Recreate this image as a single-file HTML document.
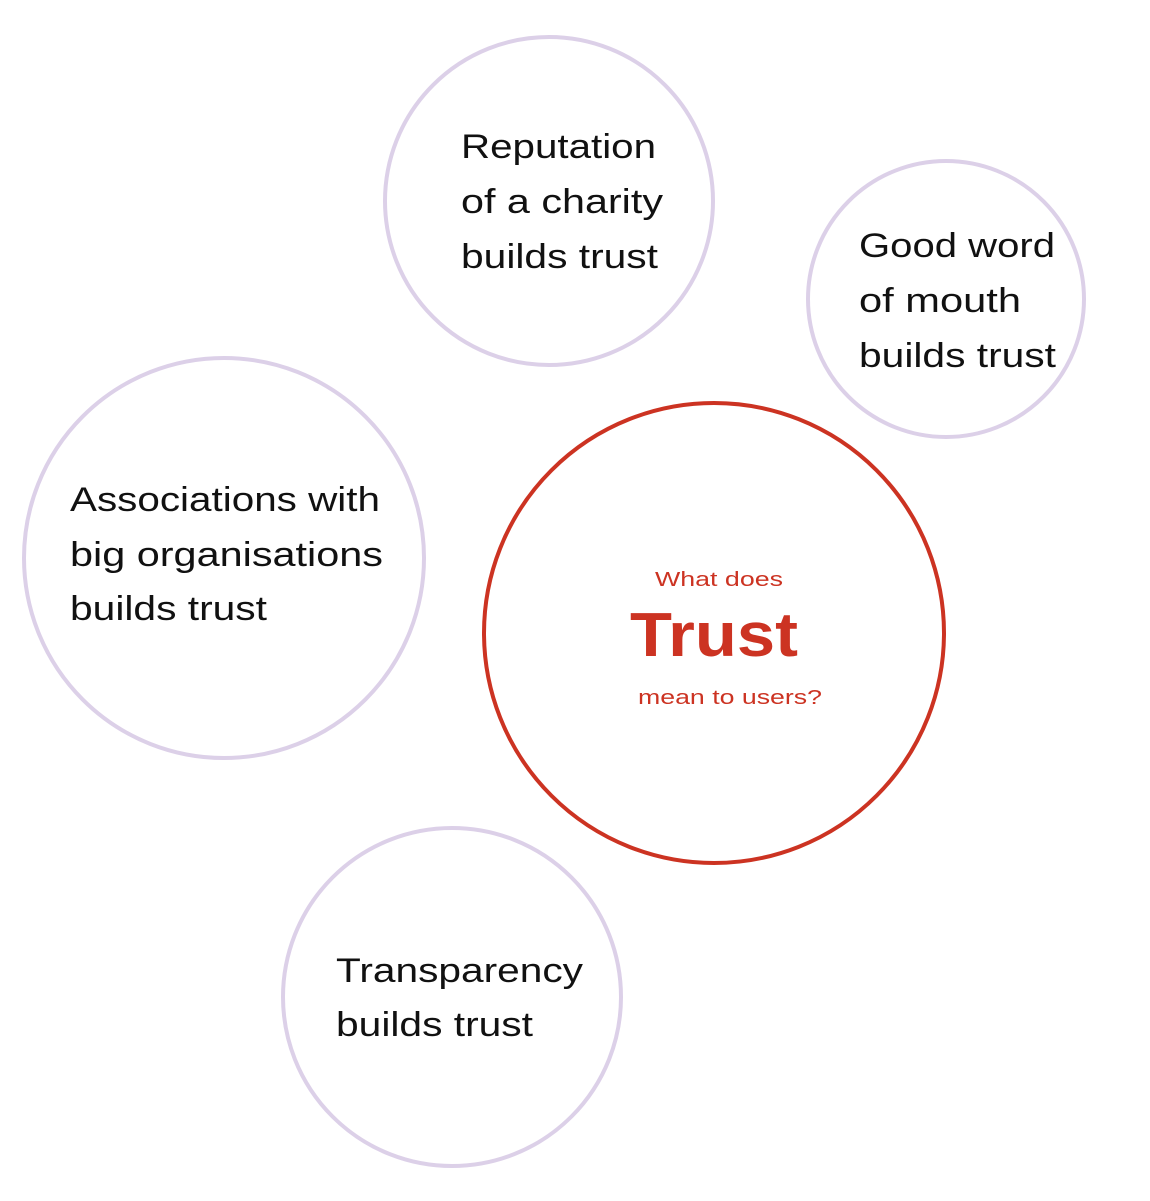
<!DOCTYPE html>
<html><head><meta charset="utf-8"><style>
html,body{margin:0;padding:0;background:#fff;}
svg{display:block;}
text{font-family:"Liberation Sans",sans-serif;}
</style></head><body>
<svg width="1150" height="1201" viewBox="0 0 1150 1201" xmlns="http://www.w3.org/2000/svg">
<g fill="none" stroke="#dcd0e8" stroke-width="4">
<circle cx="549" cy="201" r="164"/>
<circle cx="946" cy="299" r="138"/>
<circle cx="224" cy="558" r="200"/>
<circle cx="452" cy="997" r="169"/>
</g>
<circle cx="714" cy="633" r="230" fill="none" stroke="#cc3322" stroke-width="4"/>
<g fill="#111" font-size="34">
<text x="461" y="158" textLength="195" lengthAdjust="spacingAndGlyphs">Reputation</text>
<text x="461" y="213" textLength="202" lengthAdjust="spacingAndGlyphs">of a charity</text>
<text x="461" y="268" textLength="197" lengthAdjust="spacingAndGlyphs">builds trust</text>
<text x="859" y="257" textLength="196" lengthAdjust="spacingAndGlyphs">Good word</text>
<text x="859" y="312" textLength="162" lengthAdjust="spacingAndGlyphs">of mouth</text>
<text x="859" y="367" textLength="197" lengthAdjust="spacingAndGlyphs">builds trust</text>
<text x="70" y="511" textLength="310" lengthAdjust="spacingAndGlyphs">Associations with</text>
<text x="70" y="566" textLength="313" lengthAdjust="spacingAndGlyphs">big organisations</text>
<text x="70" y="620" textLength="197" lengthAdjust="spacingAndGlyphs">builds trust</text>
<text x="336" y="982" textLength="247" lengthAdjust="spacingAndGlyphs">Transparency</text>
<text x="336" y="1036" textLength="197" lengthAdjust="spacingAndGlyphs">builds trust</text>
</g>
<g fill="#cc3322">
<text x="655" y="586" font-size="20" textLength="128" lengthAdjust="spacingAndGlyphs">What does</text>
<text x="630" y="656" font-size="62" font-weight="bold" textLength="168" lengthAdjust="spacingAndGlyphs">Trust</text>
<text x="638" y="704" font-size="20" textLength="184" lengthAdjust="spacingAndGlyphs">mean to users?</text>
</g>
</svg>
</body></html>
